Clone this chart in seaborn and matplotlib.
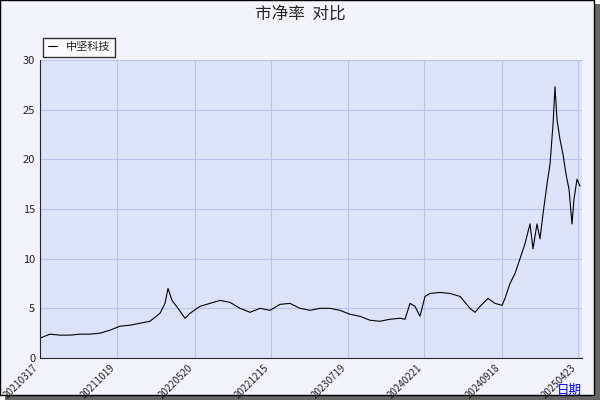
import numpy as np
import pandas as pd
import matplotlib
matplotlib.use('Agg')
import matplotlib.pyplot as plt
import seaborn as sns

pos = [40, 50, 60, 70, 80, 90, 100, 110, 120, 130, 140, 150, 160, 165, 168, 172, 178, 185,
       190, 200, 210, 220, 230, 240, 250, 260, 270, 280, 290, 300, 310, 320, 330, 340, 350,
       360, 370, 380, 390, 400, 405, 410, 415, 420, 425, 430, 440, 450, 460, 470, 475, 480,
       488, 495, 502, 505, 510, 515, 520, 525, 530, 533, 537, 540, 543, 547, 550, 553, 555,
       557, 560, 563, 566, 569, 572, 574, 577, 580]
pb = [2.0, 2.4, 2.3, 2.3, 2.4, 2.4, 2.5, 2.8, 3.2, 3.3, 3.5, 3.7, 4.5, 5.5, 7.0, 5.8, 5.0, 4.0,
      4.5, 5.2, 5.5, 5.8, 5.6, 5.0, 4.6, 5.0, 4.8, 5.4, 5.5, 5.0, 4.8, 5.0, 5.0, 4.8, 4.4,
      4.2, 3.8, 3.7, 3.9, 4.0, 3.9, 5.5, 5.2, 4.2, 6.2, 6.5, 6.6, 6.5, 6.2, 5.0, 4.6, 5.2,
      6.0, 5.5, 5.3, 6.0, 7.5, 8.5, 10.0, 11.5, 13.5, 11.0, 13.5, 12.0, 14.5, 17.5, 19.5, 23.5, 27.3,
      24.0, 22.0, 20.5, 18.5, 17.0, 13.5, 16.0, 18.0, 17.3]
tick_pos = [40, 117, 195, 271, 348, 424, 502, 578]
tick_labels = ['20210317', '20211019', '20220520', '20221215', '20230719',
               '20240221', '20240918', '20250423']

df = pd.DataFrame({'pos': pos, 'pb': pb})

sns.set_style('white')
plt.rcParams['font.family'] = ['Noto Sans CJK SC', 'DejaVu Sans']

fig = plt.figure(figsize=(6, 4), dpi=100)
fig.patch.set_facecolor('white')
# frame with shadow
fig.add_artist(plt.Rectangle((0.008, 0.0), 0.992, 0.99, transform=fig.transFigure,
                             facecolor='#666666', edgecolor='none', zorder=-2))
fig.add_artist(plt.Rectangle((0.0, 0.012), 0.99, 0.988, transform=fig.transFigure,
                             facecolor='#f2f3fb', edgecolor='black', lw=1, zorder=-1))

ax = fig.add_axes([40 / 600, 42 / 400, 542 / 600, 298 / 400])
ax.set_facecolor('#dce3f6')
sns.lineplot(data=df, x='pos', y='pb', ax=ax, color='black', lw=0.8, label='中坚科技')
ax.set_xlim(40, 582)
ax.set_ylim(0, 30)
ax.set_yticks(range(0, 31, 5))
ax.set_xticks(tick_pos)
ax.set_xticklabels(tick_labels, rotation=45, ha='right', fontsize=7)
ax.tick_params(axis='y', labelsize=8, length=3, direction='in')
ax.tick_params(axis='x', length=4, direction='in')
ax.grid(True, color='#b8c6ea', lw=0.8)
for s in ['top', 'right']:
    ax.spines[s].set_visible(False)
ax.set_xlabel('')
ax.set_ylabel('')
ax.text(1.0, -0.12, '日期', transform=ax.transAxes, color='blue', fontsize=9, ha='right')
leg = ax.legend(loc='lower left', bbox_to_anchor=(0.0, 1.0), frameon=True, fontsize=8,
                handlelength=0.8, fancybox=False, borderaxespad=0.3)
leg.get_frame().set_edgecolor('black')
leg.get_frame().set_facecolor('white')
fig.text(0.5, 0.965, '市净率  对比', ha='center', va='center', fontsize=12)

fig.savefig('out.png', dpi=100)
